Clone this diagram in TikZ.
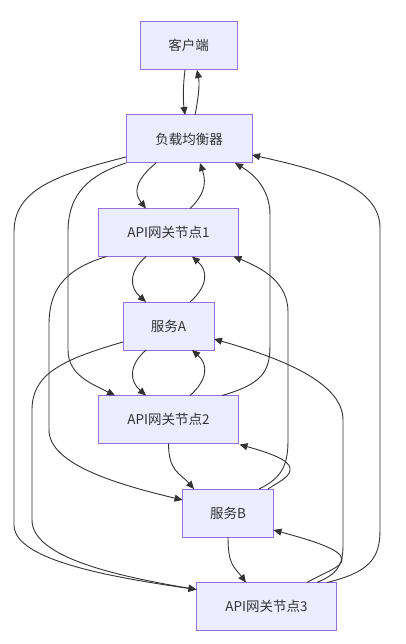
\documentclass[tikz,border=0pt]{standalone}
\usepackage{fontspec}
\setmainfont{Noto Sans CJK SC}
\usetikzlibrary{arrows.meta,calc}
\definecolor{boxfill}{HTML}{ECECFF}
\definecolor{boxline}{HTML}{9370DB}
\definecolor{edgecol}{HTML}{333333}
\begin{document}
\begin{tikzpicture}[x=1pt,y=-1pt,
  box/.style={draw=boxline,fill=boxfill,line width=1pt,minimum height=48pt,inner sep=0pt,
    font=\fontsize{13.5}{16}\selectfont,text=edgecol},
  edge/.style={draw=edgecol,line width=0.9pt,-{Triangle[length=8pt,width=7pt]}}]
\useasboundingbox (0,0) rectangle (405,644);
\node[box,minimum width=97pt] (client) at (188.5,45.5) {客户端};
\node[box,minimum width=126pt] (lb) at (189,139) {负载均衡器};
\node[box,minimum width=140pt] (gw1) at (168.5,232.5) {API网关节点1};
\node[box,minimum width=91pt] (svcA) at (168.5,326) {服务A};
\node[box,minimum width=140pt] (gw2) at (168.5,419.5) {API网关节点2};
\node[box,minimum width=91pt] (svcB) at (228,513) {服务B};
\node[box,minimum width=140pt] (gw3) at (266.5,606.5) {API网关节点3};
% client <-> lb
\draw[edge] ($(client)+(-3.5,24.5)$) .. controls +(-2,15) and +(-2,-15) .. ($(lb)+(-4,-24)$);
\draw[edge] ($(lb)+(6,-24)$) .. controls +(3,-15) and +(3,15) .. ($(client)+(8.5,24.5)$);
% lb <-> gw1
\draw[edge] ($(lb)+(-33,24)$) .. controls +(-22,18) and +(-12,-15) .. ($(gw1)+(-22.5,-24)$);
\draw[edge] ($(gw1)+(21.5,-24)$) .. controls +(18,-17) and +(5,15) .. ($(lb)+(11,24)$);
% gw1 <-> A
\draw[edge] ($(gw1)+(-22.5,24)$) .. controls +(-17,15) and +(-17,-15) .. ($(svcA)+(-22.5,-24)$);
\draw[edge] ($(svcA)+(21.5,-24)$) .. controls +(17,-15) and +(17,15) .. ($(gw1)+(23.5,24)$);
% A <-> gw2
\draw[edge] ($(svcA)+(-22.5,24)$) .. controls +(-17,15) and +(-17,-15) .. ($(gw2)+(-22.5,-24)$);
\draw[edge] ($(gw2)+(21.5,-24)$) .. controls +(17,-15) and +(17,15) .. ($(svcA)+(23.5,24)$);
% gw2 -> B, B -> gw3
\draw[edge] ($(gw2)+(0,24)$) .. controls +(0,28) and +(-14,-16) .. ($(svcB)+(-34,-24)$);
\draw[edge] ($(svcB)+(0,24)$) .. controls +(0,28) and +(-12,-16) .. ($(gw3)+(-20.5,-24)$);
% lb -> gw2
\draw[edge] ($(lb)+(-63,24)$) .. controls (82,177) and (68,200) .. (68,232) -- (68,350)
  .. controls (68,375) and (92,384) .. ($(gw2)+(-53.5,-24)$);
% lb -> gw3
\draw[edge] ($(lb)+(-63,18)$) .. controls (55,175) and (14,190) .. (14,232) -- (14,525)
  .. controls (14,560) and (110,577) .. ($(gw3)+(-70,-17)$);
% A -> gw3
\draw[edge] ($(svcA)+(-45.5,16)$) .. controls (60,360) and (32,375) .. (32,410) -- (32,520)
  .. controls (32,556) and (110,575) .. ($(gw3)+(-70,-17)$);
% gw1 -> B
\draw[edge] ($(gw1)+(-62,24)$) .. controls (62,270) and (49,292) .. (49,325) -- (49,430)
  .. controls (49,465) and (120,485) .. ($(svcB)+(-45.5,-13)$);
% B -> gw1
\draw[edge] ($(svcB)+(31,-24)$) .. controls (282,478) and (288,465) .. (288,440) -- (288,312)
  .. controls (288,282) and (262,268) .. ($(gw1)+(65,24)$);
% B -> gw2
\draw[edge] ($(svcB)+(40,-24)$) .. controls (282,480) and (291,476) .. (290,468)
  .. controls (289,460) and (270,453) .. ($(gw2)+(71,25)$);
% gw3 -> B
\draw[edge] ($(gw3)+(40.5,-24)$) .. controls (325,572) and (343,567) .. (342,559)
  .. controls (341,549) and (310,540) .. ($(svcB)+(45.5,17)$);
% gw3 -> A
\draw[edge] ($(gw3)+(50.5,-24)$) .. controls (337,574) and (343,566) .. (343,545) -- (343,420)
  .. controls (343,382) and (280,358) .. ($(svcA)+(45.5,13)$);
% gw2 -> lb
\draw[edge] ($(gw2)+(53.5,-24)$) .. controls (262,384) and (270,372) .. (270,345) -- (270,215)
  .. controls (270,186) and (250,172) .. ($(lb)+(46,24)$);
% gw3 -> lb
\draw[edge] ($(gw3)+(60.5,-24)$) .. controls (370,572) and (380,558) .. (380,530) -- (380,228)
  .. controls (380,186) and (320,170) .. ($(lb)+(63,16)$);
\end{tikzpicture}
\end{document}
